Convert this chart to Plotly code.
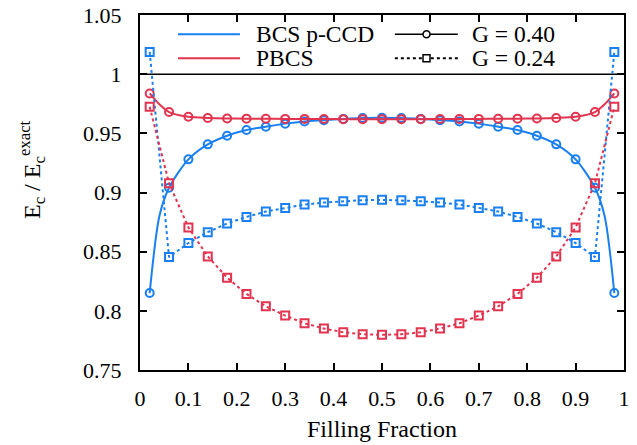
import plotly.graph_objects as go

# ---------------- data ----------------
filling = [0.02, 0.06, 0.10, 0.14, 0.18, 0.22, 0.26, 0.30, 0.34, 0.38, 0.42, 0.46, 0.50,
           0.54, 0.58, 0.62, 0.66, 0.70, 0.74, 0.78, 0.82, 0.86, 0.90, 0.94, 0.98]

pccd_g040 = [0.815, 0.904, 0.928, 0.9407, 0.948, 0.9528, 0.9556, 0.9582, 0.9601, 0.9611, 0.9622, 0.9630, 0.9632,
             0.9630, 0.9622, 0.9611, 0.9601, 0.9582, 0.9556, 0.9528, 0.948, 0.9407, 0.928, 0.904, 0.815]
pbcs_g040 = [0.9837, 0.968, 0.964, 0.963, 0.9626, 0.9624, 0.9623, 0.9622, 0.9622, 0.9621, 0.9620, 0.9620, 0.9620,
             0.9620, 0.9620, 0.9621, 0.9622, 0.9622, 0.9623, 0.9624, 0.9626, 0.963, 0.964, 0.968, 0.9837]
pccd_g024 = [1.0188, 0.8454, 0.8573, 0.8665, 0.8738, 0.8794, 0.8839, 0.8870, 0.8898, 0.8915, 0.8926, 0.8935, 0.8938,
             0.8935, 0.8926, 0.8915, 0.8898, 0.8870, 0.8839, 0.8794, 0.8738, 0.8665, 0.8573, 0.8454, 1.0188]
pbcs_g024 = [0.9724, 0.9078, 0.8704, 0.846, 0.828, 0.8143, 0.8038, 0.796, 0.7895, 0.785, 0.7819, 0.7802, 0.7797,
             0.7802, 0.7819, 0.785, 0.7895, 0.796, 0.8038, 0.8143, 0.828, 0.846, 0.8704, 0.9078, 0.9724]

# extra points of the finely sampled solid curves (between the first/last two markers)
edge_x = [0.04, 0.96]
pccd_g040_edge = [0.880, 0.880]
pbcs_g040_edge = [0.9745, 0.9745]

x_ticks = [0, 0.1, 0.2, 0.3, 0.4, 0.5, 0.6, 0.7, 0.8, 0.9, 1]
x_ticktext = ["0", "0.1", "0.2", "0.3", "0.4", "0.5", "0.6", "0.7", "0.8", "0.9", "1"]
y_ticks = [0.75, 0.8, 0.85, 0.9, 0.95, 1.0, 1.05]
y_ticktext = ["0.75", "0.8", "0.85", "0.9", "0.95", "1", "1.05"]

series_names = ["BCS p-CCD", "PBCS"]
g_names = ["G = 0.40", "G = 0.24"]

BLUE = "#1a7ff0"
RED = "#e2334f"
FONT = "Liberation Serif"


def merged(xs, ys, ex, ey):
    pts = sorted(list(zip(xs, ys)) + list(zip(ex, ey)))
    return [p[0] for p in pts], [p[1] for p in pts]


fig = go.Figure()

# solid curves (G = 0.40)
for ys, ey, col in [(pccd_g040, pccd_g040_edge, BLUE), (pbcs_g040, pbcs_g040_edge, RED)]:
    lx, ly = merged(filling, ys, edge_x, ey)
    fig.add_trace(go.Scatter(x=lx, y=ly, mode="lines", line=dict(color=col, width=2, shape="spline", smoothing=0.8),
                             hoverinfo="skip"))
    fig.add_trace(go.Scatter(x=filling, y=ys, mode="markers",
                             marker=dict(symbol="circle-open", size=8, color=col, line=dict(width=2, color=col))))

# dotted curves (G = 0.24)
for ys, col in [(pccd_g024, BLUE), (pbcs_g024, RED)]:
    fig.add_trace(go.Scatter(x=filling, y=ys, mode="lines+markers",
                             line=dict(color=col, width=2, dash="dot"),
                             marker=dict(symbol="square-open", size=8, color=col, line=dict(width=2, color=col))))

# plot geometry (pixels)
W, H = 637, 445
L, R, T, B = 140, 624.3, 14.7, 370.5
pw, ph = R - L, B - T


def px(x):
    return (x - L) / pw


def py(y):
    return (B - y) / ph


shapes = [
    dict(type="line", xref="paper", yref="y", x0=0, x1=1, y0=1.0, y1=1.0,
         line=dict(color="black", width=1.5), layer="below"),
]
annotations = []

LEG_SIZE = 23.5
# manual legend
row_y = [34, 58]
for i, (name, col) in enumerate(zip(series_names, [BLUE, RED])):
    shapes.append(dict(type="line", xref="paper", yref="paper", x0=px(178), x1=px(240),
                       y0=py(row_y[i]), y1=py(row_y[i]), line=dict(color=col, width=2)))
    annotations.append(dict(text=name, xref="paper", yref="paper", x=px(254), y=py(row_y[i]),
                            xanchor="left", yanchor="middle", showarrow=False,
                            font=dict(family=FONT, size=LEG_SIZE, color="black")))
for i, name in enumerate(g_names):
    yv = py(row_y[i])
    shapes.append(dict(type="line", xref="paper", yref="paper", x0=px(395), x1=px(458),
                       y0=yv, y1=yv, line=dict(color="black", width=1.5 if i == 0 else 2,
                                               dash="solid" if i == 0 else "dot")))
    cx, cy = px(426.7), yv
    hx, hy = 3.5 / pw, 3.5 / ph
    shapes.append(dict(type="circle" if i == 0 else "rect", xref="paper", yref="paper",
                       x0=cx - hx, x1=cx + hx, y0=cy - hy, y1=cy + hy,
                       line=dict(color="black", width=1.5), fillcolor="white"))
    annotations.append(dict(text=name, xref="paper", yref="paper", x=px(470), y=yv,
                            xanchor="left", yanchor="middle", showarrow=False,
                            font=dict(family=FONT, size=LEG_SIZE, color="black")))

# axis titles
annotations.append(dict(text="Filling Fraction", xref="paper", yref="paper", x=0.5, y=py(430),
                        xanchor="center", yanchor="middle", showarrow=False,
                        font=dict(family=FONT, size=24, color="black")))
annotations.append(dict(text="E<sub>c</sub> / E<sub>c</sub><sup>exact</sup>", xref="paper", yref="paper",
                        x=px(32), y=py(170), xanchor="center", yanchor="middle", textangle=-90,
                        showarrow=False, font=dict(family=FONT, size=24, color="black")))

axis_common = dict(showgrid=False, zeroline=False, showline=True, linecolor="black", linewidth=2,
                   mirror="ticks", ticks="inside", ticklen=7, tickwidth=1.5, tickcolor="black",
                   automargin=False,
                   tickfont=dict(family=FONT, size=22, color="black"))

fig.update_layout(
    width=W, height=H, autosize=False,
    margin=dict(l=L, r=W - R, t=T, b=H - B, pad=0, autoexpand=False),
    plot_bgcolor="white", paper_bgcolor="white",
    showlegend=False,
    font=dict(family=FONT, size=22, color="black"),
    shapes=shapes, annotations=annotations,
    xaxis=dict(range=[0, 1], tickvals=x_ticks, ticktext=x_ticktext, ticklabelstandoff=8, **axis_common),
    yaxis=dict(range=[0.75, 1.05], tickvals=y_ticks, ticktext=y_ticktext, ticklabelstandoff=12, **axis_common),
)

fig.write_html("out.html", config={"responsive": False, "displayModeBar": False},
               post_script="document.body.style.margin='0';document.body.style.padding='0';")
